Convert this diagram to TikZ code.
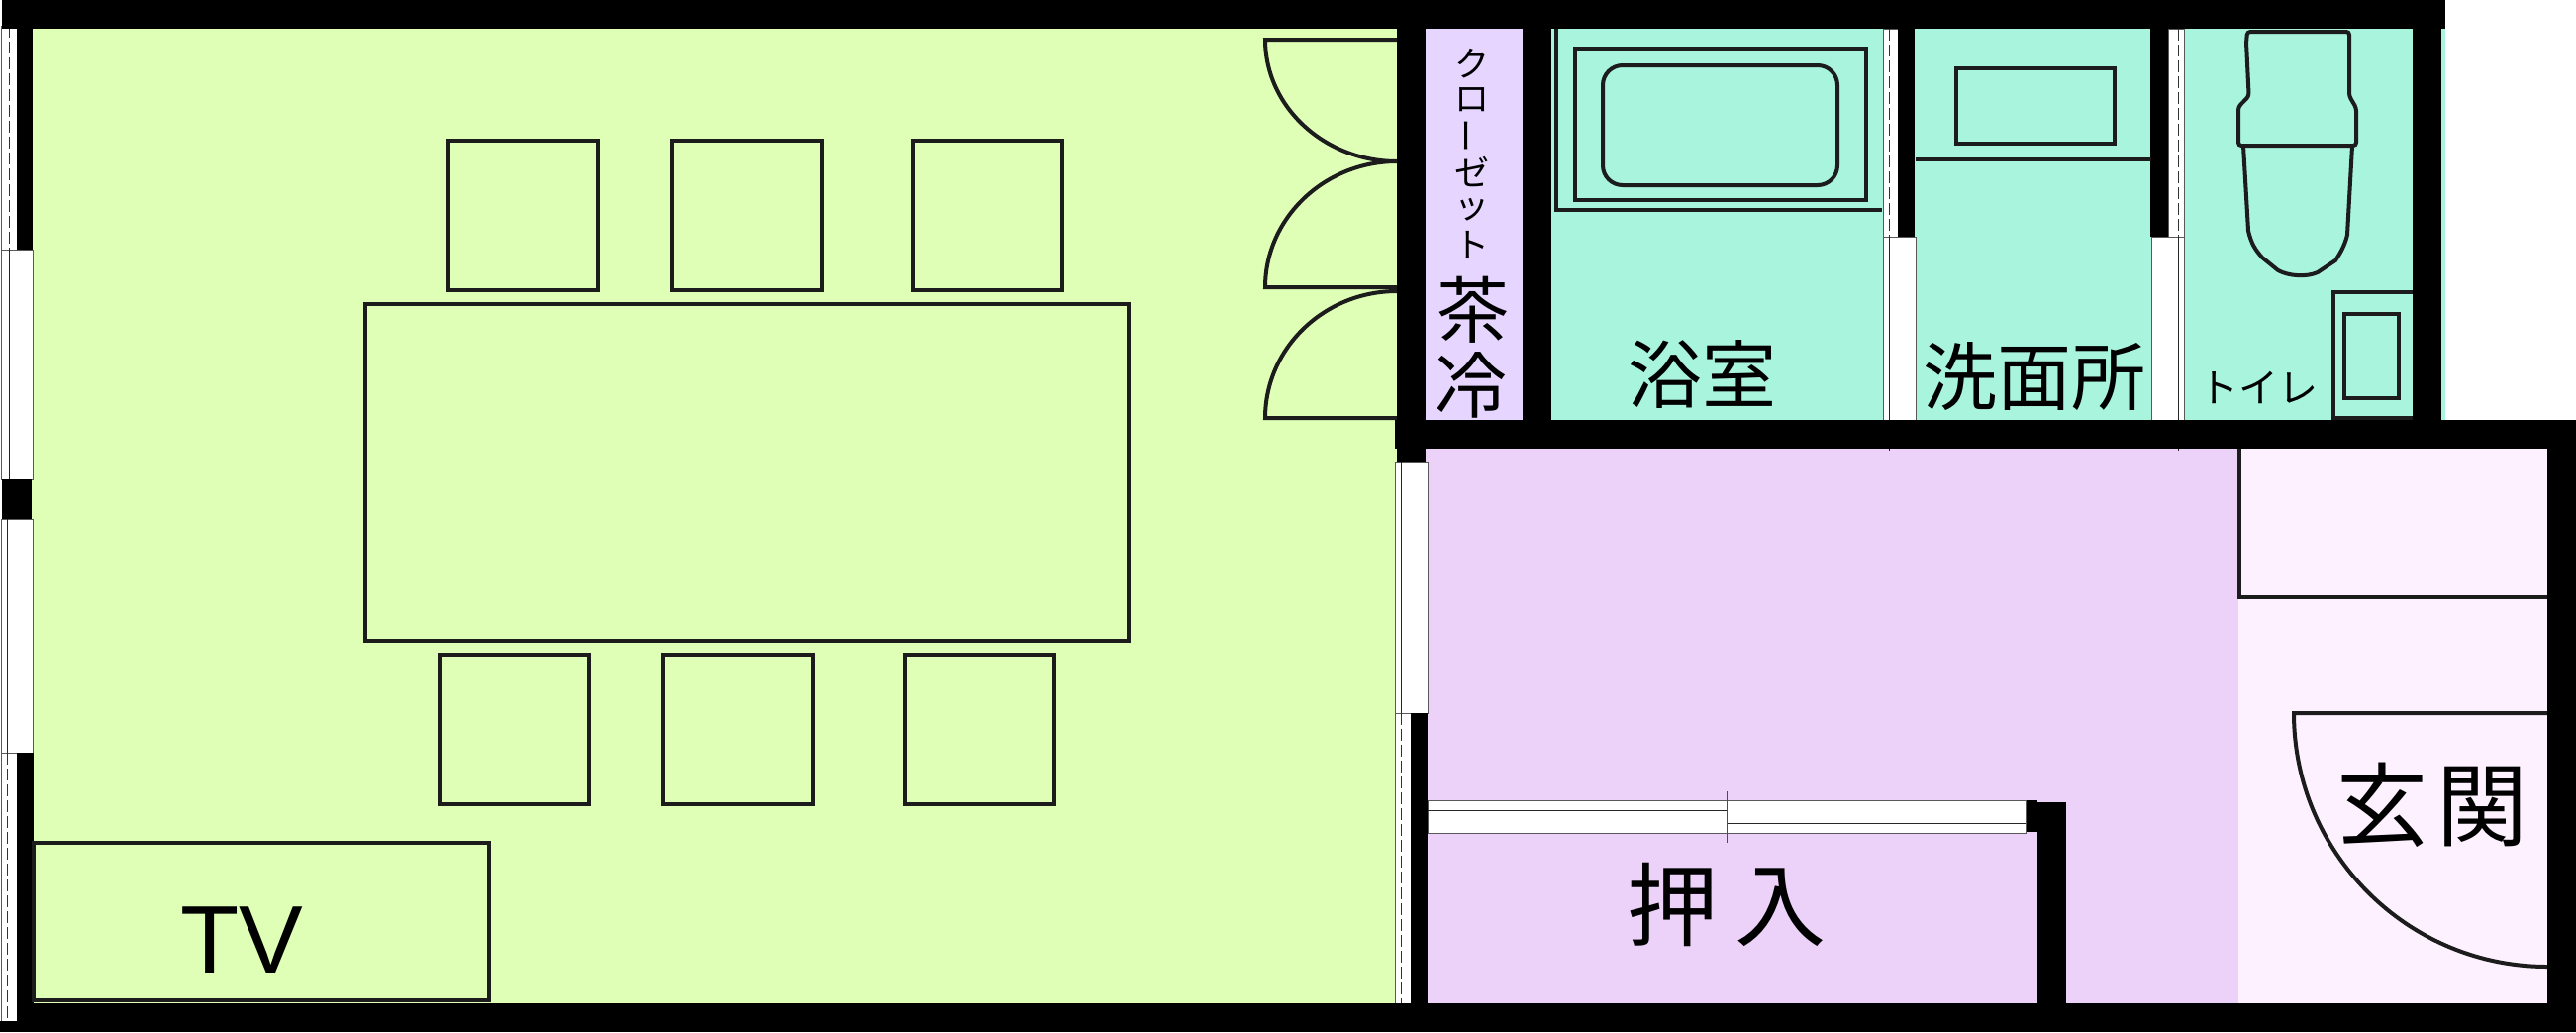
\documentclass[tikz,border=0pt]{standalone}
\usepackage{fontspec}
\setmainfont{Liberation Sans}
\newfontfamily\jp{Noto Sans CJK JP}
\definecolor{ink}{HTML}{1C1C1C}
\definecolor{roomgreen}{HTML}{DFFFB7}
\definecolor{roomteal}{HTML}{A9F4DD}
\definecolor{roomlilac}{HTML}{E6D6FF}
\definecolor{roompink}{HTML}{ECD2F8}
\definecolor{roompale}{HTML}{FDF1FF}
\tikzset{
  wall/.style={fill=black,draw=none},
  furn/.style={draw=ink,line width=4pt,line join=miter},
  pane/.style={fill=white,draw=black!65,line width=1pt},
  sash/.style={draw=black!85,line width=1pt},
  sashd/.style={draw=black!80,line width=1pt,dash pattern=on 12pt off 4pt},
  lab/.style={inner sep=0pt,outer sep=0pt,text=black,font=\jp},
}
\newcommand{\fs}[1]{\fontsize{#1}{#1}\selectfont}
\begin{document}
\begin{tikzpicture}[x=1pt,y=-1pt]
\useasboundingbox (0,0) rectangle (2602,1042);
\fill[white] (0,0) rectangle (2602,1042);
% rooms
\fill[roomgreen] (30,25) rectangle (1412,1016);
\fill[roomlilac] (1438,25) rectangle (1540,426);
\fill[roomteal] (1565,25) rectangle (2470,426);
\fill[roompink] (1440,450) rectangle (2262,1016);
\fill[roompale] (2261,450) rectangle (2575,1016);
% windows, left side
\draw[pane] (1,26) rectangle (17,252);
\draw[pane] (1,252) rectangle (33,484);
\draw[pane] (1,524) rectangle (33,760);
\draw[pane] (1,760) rectangle (17,1031);
\draw[sashd] (9,26) -- (9,252);
\draw[sash] (9,252) -- (9,484);
\draw[sash] (7,524) -- (7,760);
\draw[sashd] (7,760) -- (7,1031);
% windows, bath side
\draw[pane] (1902,29) rectangle (1917,239);
\draw[pane] (1902,239) rectangle (1935,424);
\draw[sashd] (1908,29) -- (1908,239);
\draw[sash] (1908,239) -- (1908,455);
\draw[pane] (2190,29) rectangle (2206,239);
\draw[pane] (2173,239) rectangle (2206,424);
\draw[sashd] (2200,29) -- (2200,239);
\draw[sash] (2200,239) -- (2200,455);
% window, between rooms
\draw[pane] (1409,466) rectangle (1442,720);
\draw[pane] (1409,720) rectangle (1425,1013);
\draw[sash] (1415,466) -- (1415,720);
\draw[sashd] (1415,720) -- (1415,1013);
% walls
\fill[wall] (2,0) rectangle (2470,29);
\fill[wall] (17,26) rectangle (33,252);
\fill[wall] (2,484) rectangle (31.5,524);
\fill[wall] (17,760) rectangle (34,1013);
\fill[wall] (0,1031) rectangle (17,1042);
\fill[wall] (17,1013) rectangle (2602,1042);
\fill[wall] (1411,29) rectangle (1440,466);
\fill[wall] (1538,29) rectangle (1567,424);
\fill[wall] (1917,29) rectangle (1934,239);
\fill[wall] (2172,29) rectangle (2190,239);
\fill[wall] (2437,29) rectangle (2466,424);
\fill[wall] (1409,424) rectangle (2602,453);
\fill[wall] (2573,424) rectangle (2602,1042);
\fill[wall] (1425,720) rectangle (1441.5,1013);
\fill[wall] (2046,808) rectangle (2058,840);
\fill[wall] (2058,810) rectangle (2087,1013);
% sliding door of the closet
\draw[pane] (1442,808.5) rectangle (2046,841);
\draw[sash] (1442,818.5) -- (1744,818.5);
\draw[sash] (1744,831) -- (2046,831);
\draw[draw=black!70,line width=1pt] (1744,799) -- (1744,851);
% living room furniture
\draw[furn] (369,307) rectangle (1140,647);
\foreach \cx in {453,679,922} \draw[furn] (\cx,142) rectangle ++(151,151);
\foreach \cx in {444,670,914} \draw[furn] (\cx,661) rectangle ++(151,151);
\draw[furn] (34,851) rectangle (494,1010);
% doors
\draw[furn] (1411,40) -- (1278,40) .. controls (1278,108) and (1338,163) .. (1411,163);
\draw[furn] (1411,163) .. controls (1338,163) and (1278,220) .. (1278,290) -- (1411,290);
\draw[furn] (1411,294) .. controls (1338,294) and (1278,351) .. (1278,422) -- (1411,422);
% bath
\draw[furn] (1572,29) -- (1572,212) -- (1901,212);
\draw[furn] (1590.5,48.5) rectangle (1885,201.5);
\draw[furn,rounded corners=20pt] (1619,66) rectangle (1856,187);
% wash room
\draw[furn] (1935,161) -- (2173,161);
\draw[furn] (1976,69) rectangle (2136,145);
% toilet
\draw[furn,rounded corners=3pt] (2270,32) -- (2373,32) -- (2373,97) -- (2380,109) -- (2380,147) -- (2261,147) -- (2261,108) -- (2271.6,97) -- (2269,43) -- cycle;
\draw[furn] (2266,147) -- (2271,233) .. controls (2274,246) and (2278,252) .. (2285,260) -- (2301,273) .. controls (2312,279) and (2330,280) .. (2341,275) -- (2359,263) .. controls (2365,254) and (2369,246) .. (2371,237) -- (2376,147);
\draw[furn] (2437,294.5) -- (2357,294.5) -- (2357,422) -- (2437,422);
\draw[furn] (2368,317) rectangle (2422.5,402);
% entrance
\draw[furn] (2262,453) -- (2262,603) -- (2573,603);
\draw[furn] (2573,720) -- (2317,720) arc[start angle=180,end angle=270,radius=256pt];
% labels
\node[lab] (closeta) at (1487,64) {\fs{35}ク};
\node[lab] (closetb) at (1487,101) {\fs{35}ロ};
\node[lab,rotate=90] (closetc) at (1487,137) {\fs{35}ー};
\node[lab] (closetd) at (1487,173) {\fs{35}ゼ};
\node[lab] (closete) at (1487,212) {\fs{35}ッ};
\node[lab] (closetf) at (1487,247) {\fs{35}ト};
\node[lab] (cold) at (1488,313) {\fs{73}茶};
\node[lab] (tea) at (1486,389) {\fs{73}冷};
\node[lab] (bath) at (1719,378) {\fs{75}浴室};
\node[lab] (wash) at (2055,380) {\fs{75}洗面所};
\node[lab] (wc) at (2281,391) {\fs{40}トイレ};
\node[lab] (oshi) at (1744,913) {\fs{92}押\hspace{18pt}入};
\node[lab] (genkan) at (2457,813) {\fs{92}玄\hspace{9pt}関};
\node[inner sep=0pt,font=\fs{97}] (tv) at (244,949) {TV};
\end{tikzpicture}
\end{document}
